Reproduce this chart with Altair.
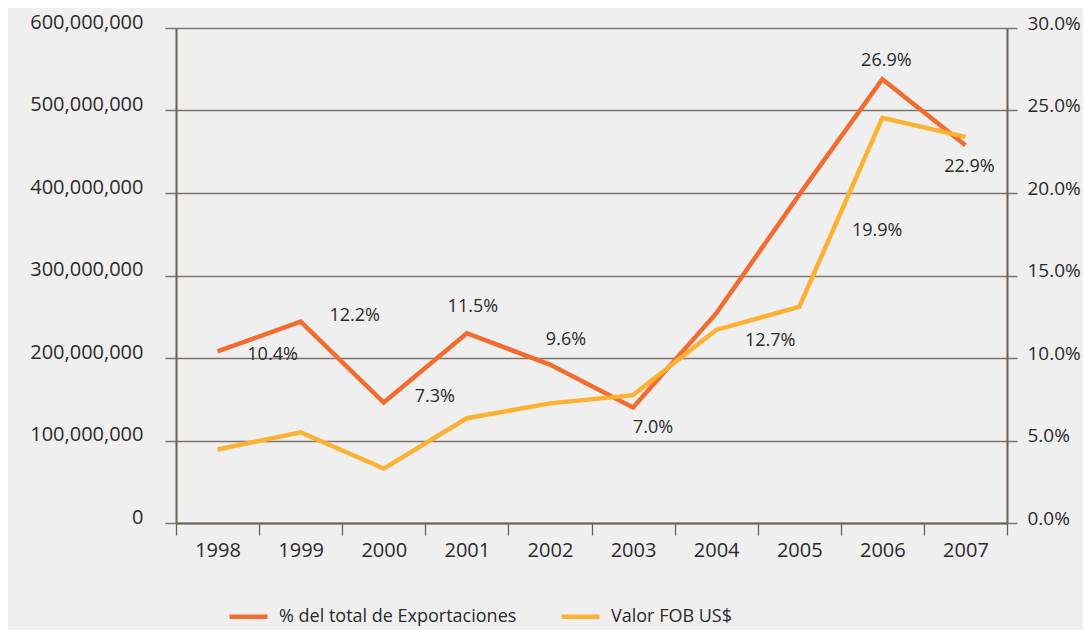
import altair as alt
import pandas as pd

years = ["1998", "1999", "2000", "2001", "2002", "2003", "2004", "2005", "2006", "2007"]
pct_total = [10.4, 12.2, 7.3, 11.5, 9.6, 7.0, 12.7, 19.9, 26.9, 22.9]
fob_usd = [89e6, 110e6, 66e6, 127e6, 145e6, 155e6, 234e6, 262e6, 491e6, 468e6]
pct_labels = ["10.4%", "12.2%", "7.3%", "11.5%", "9.6%", "7.0%", "12.7%", "19.9%", "26.9%", "22.9%"]
series_names = ["% del total de Exportaciones", "Valor FOB US$"]
series_colors = ["#F26B2F", "#FDB133"]
fob_ticks = [0, 100000000, 200000000, 300000000, 400000000, 500000000, 600000000]
pct_ticks = [0, 5, 10, 15, 20, 25, 30]

# label placement offsets in pixels (style only)
label_dx = [55, 54, 51, 6, 16, 20, 54, 78, 4, 4]
label_dy = [4, -6, -6, -26, -25, 20, 28, 36, -18, 22]

df = pd.DataFrame({"year": years, "pct": pct_total, "fob": fob_usd, "label": pct_labels})

FONT = "Open Sans"
TXT = "#2b2b2b"
GRID = "#7e766c"
AXIS = "#6d6255"

color = alt.Color(
    "series:N",
    scale=alt.Scale(domain=series_names, range=series_colors),
    legend=alt.Legend(
        title=None, orient="none", legendX=51, legendY=567, direction="horizontal",
        symbolType="stroke", symbolSize=1444, symbolStrokeWidth=4.5,
        labelFontSize=18, labelColor=TXT, labelFont=FONT, labelOffset=9,
        columnPadding=35, padding=0, labelLimit=500,
    ),
)

x = alt.X(
    "year:O", bandPosition=0.5,
    scale=alt.Scale(type="band", paddingInner=0, paddingOuter=0),
    axis=alt.Axis(
        title=None, labelAngle=0, tickBand="extent", tickSize=12, tickColor=AXIS,
        tickWidth=1.3, domainColor=AXIS, domainWidth=2, labelFontSize=20,
        labelColor=TXT, labelFont=FONT, labelPadding=5, grid=False,
    ),
)

pct_y = alt.Y(
    "pct:Q", scale=alt.Scale(domain=[0, 30], nice=False),
    axis=alt.Axis(
        orient="right", title=None, values=pct_ticks,
        labelExpr="format(datum.value, '.1f') + '%'", grid=False,
        tickSize=10, tickColor=GRID, tickWidth=1.5, domainColor=AXIS, domainWidth=2,
        labelPadding=10, labelFontSize=19, labelColor=TXT, labelFont=FONT,
        labelOffset=-5, labelBaseline="middle",
    ),
)

fob_y = alt.Y(
    "fob:Q", scale=alt.Scale(domain=[0, 600000000], nice=False),
    axis=alt.Axis(
        orient="left", title=None, values=fob_ticks, format=",.0f", grid=True,
        gridColor=GRID, gridWidth=1.5, tickSize=11, tickColor=GRID, tickWidth=1.5,
        domainColor=AXIS, domainWidth=2, labelPadding=22, labelFontSize=20,
        labelColor=TXT, labelFont=FONT, labelOffset=-6, labelBaseline="middle",
    ),
)

base = alt.Chart(df)

orange = base.transform_calculate(series="'" + series_names[0] + "'").mark_line(
    strokeWidth=4.5
).encode(x=x, y=pct_y, color=color)

texts = [
    base.transform_filter(alt.datum.year == yr).mark_text(
        dx=ddx, dy=ddy, fontSize=18, color=TXT, font=FONT, baseline="middle", align="center"
    ).encode(x=x, y=pct_y, text="label:N")
    for yr, ddx, ddy in zip(years, label_dx, label_dy)
]

right_group = alt.layer(orange, *texts)

yellow = base.transform_calculate(series="'" + series_names[1] + "'").mark_line(
    strokeWidth=4.5
).encode(x=x, y=fob_y, color=color)

chart = alt.layer(right_group, yellow).resolve_scale(y="independent").properties(
    width=831, height=495,
    autosize=alt.AutoSizeParams(type="none"),
    padding={"left": 168, "top": 20, "right": 76, "bottom": 107},
).configure(background="#efefef", font=FONT).configure_view(stroke=None)

chart.save("out.html", embed_options={"renderer": "svg", "actions": False})
